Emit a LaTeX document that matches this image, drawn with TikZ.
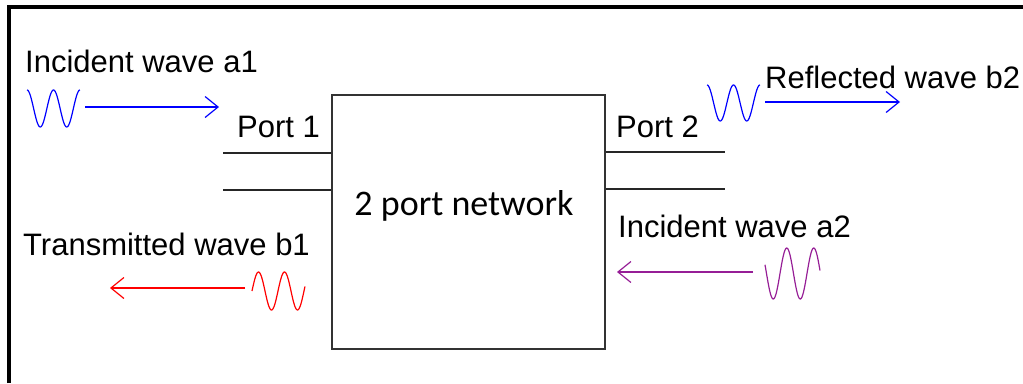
\documentclass[tikz,border=0pt]{standalone}
\usepackage{fontspec}
\setmainfont{Liberation Sans}
\newfontfamily\calfont{Carlito}
\usetikzlibrary{arrows.meta}
\definecolor{wavepurple}{RGB}{150,30,150}
\tikzset{
	lbl/.style={anchor=base west, inner sep=0pt, font=\fontsize{31}{37}\selectfont},
	wave/.style={line width=1.2pt},
	sig/.style={line width=1.2pt, -{Straight Barb[length=13pt,width=21pt,line width=1.2pt]}},
	portline/.style={line width=1.4pt, draw=black!85}
}
\begin{document}
\begin{tikzpicture}[x=1pt,y=-1pt]
			\useasboundingbox (0,0) rectangle (1023,383);
			\draw [line width=4pt] (9,383) -- (9,7) -- (1023,7);
			
			\node (net) [draw=black!80, line width=1.4pt, minimum width=273pt, minimum height=254pt, inner sep=0pt] at (468.5,222) {};
			\node (nettext) at (464,206) [inner sep=0pt, font=\calfont\fontsize{36}{42}\selectfont] {2 port network};
			
			\draw [portline] (223,153) -- (net.west |- 0,153);
			\draw [portline] (223,190) -- (net.west |- 0,190);
			\draw [portline] (net.east |- 0,152) -- (725,152);
			\draw [portline] (net.east |- 0,189) -- (725,189);
			
			\node (portone) [lbl] at (237,137) {Port 1};
			\node (porttwo) [lbl] at (616,137) {Port 2};
			
			\node (inca) [lbl] at (25,72) {Incident wave a1};
			\node (refb) [lbl] at (765,88) {Reflected wave b2};
			\node (trab) [lbl] at (23,255) {Transmitted wave b1};
			\node (incb) [lbl] at (618,237) {Incident wave a2};
			
			\draw [wave, blue] plot[domain=0:53, samples=80] ({27+\x},{108.5-18.5*cos(\x/26.5*360)});
			\draw [wave, blue] plot[domain=0:53, samples=80] ({707+\x},{103-18*cos(\x/26.5*360)});
			\draw [wave, red] plot[domain=0:53, samples=80] ({252+\x},{291-19*sin(\x/26*360)});
			\draw [wave, wavepurple] plot[domain=0:55, samples=80] ({765+\x},{273.5+25.5*sin(\x/27*360-20)});
			
			\coordinate (aone-s) at (85,107);
			\coordinate (aone-e) at (219,107);
			\coordinate (btwo-s) at (765,102);
			\coordinate (btwo-e) at (900,102);
			\coordinate (bone-s) at (245,288);
			\coordinate (bone-e) at (110,288);
			\coordinate (atwo-s) at (753,272);
			\coordinate (atwo-e) at (617,272);
			
			\draw [sig, blue] (aone-s) -- (aone-e);
			\draw [sig, blue] (btwo-s) -- (btwo-e);
			\draw [sig, red] (bone-s) -- (bone-e);
			\draw [sig, wavepurple] (atwo-s) -- (atwo-e);
		\end{tikzpicture}
\end{document}
